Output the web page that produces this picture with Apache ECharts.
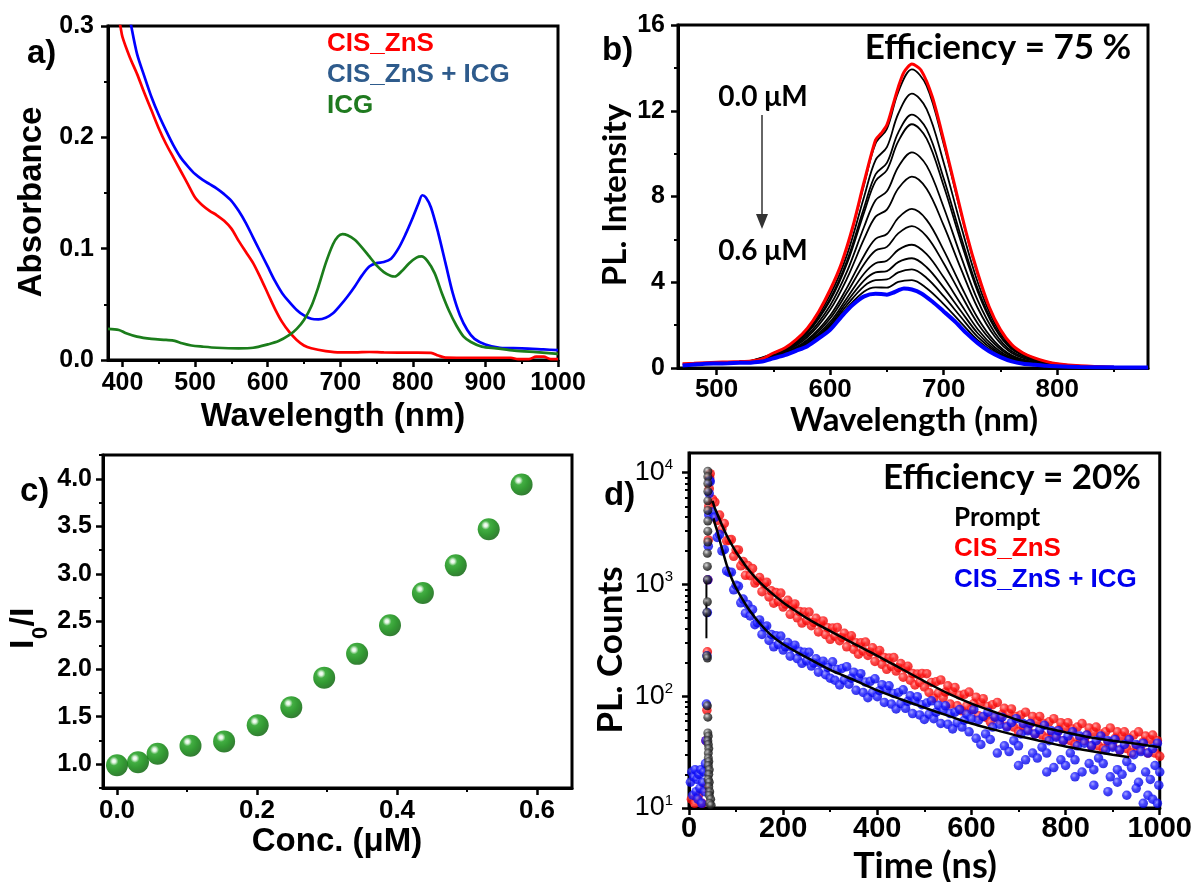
<!DOCTYPE html>
<html><head><meta charset="utf-8">
<script src="https://cdn.jsdelivr.net/npm/echarts@6/dist/echarts.min.js"></script>
<style>html,body{margin:0;padding:0;background:#fff}#c{width:1195px;height:882px}</style>
</head><body><div id="c"></div>
<script>
// ===== Panel a: absorbance spectra [wavelength nm, absorbance] =====
const absCIS = [[392,0.315],[397,0.300],[400,0.290],[410,0.272],[420,0.257],[430,0.240],[440,0.224],[450,0.208],[460,0.194],[470,0.182],[480,0.170],[490,0.158],[500,0.146],[510,0.139],[520,0.134],[530,0.130],[540,0.125],[550,0.118],[560,0.107],[570,0.097],[580,0.087],[590,0.074],[600,0.060],[610,0.046],[620,0.034],[630,0.025],[640,0.018],[650,0.013],[660,0.0105],[680,0.008],[700,0.0068],[720,0.0068],[740,0.0072],[760,0.0068],[800,0.0066],[825,0.0064],[835,0.004],[845,0.0022],[900,0.002],[935,0.002],[945,0.0008],[960,0.0008],[970,0.003],[980,0.003],[990,0.0008],[1000,0.0008]];
const absCISICG = [[408,0.315],[412,0.300],[420,0.275],[430,0.255],[440,0.236],[450,0.220],[460,0.206],[470,0.193],[480,0.182],[490,0.174],[500,0.167],[510,0.162],[520,0.158],[530,0.154],[540,0.149],[550,0.143],[560,0.134],[570,0.123],[580,0.110],[590,0.097],[600,0.084],[610,0.071],[620,0.060],[630,0.052],[640,0.045],[650,0.040],[660,0.037],[670,0.0365],[680,0.038],[690,0.042],[700,0.049],[710,0.057],[720,0.066],[730,0.076],[740,0.084],[750,0.087],[760,0.088],[770,0.091],[780,0.100],[790,0.113],[800,0.128],[808,0.141],[813,0.148],[818,0.146],[825,0.137],[835,0.114],[845,0.087],[855,0.060],[865,0.040],[875,0.027],[885,0.019],[900,0.014],[920,0.011],[950,0.0105],[980,0.0095],[1000,0.0088]];
const absICG = [[380,0.028],[395,0.027],[405,0.024],[420,0.021],[440,0.019],[460,0.018],[472,0.0172],[482,0.015],[495,0.013],[510,0.012],[530,0.011],[560,0.0105],[580,0.011],[600,0.014],[615,0.017],[630,0.0225],[640,0.028],[650,0.036],[660,0.048],[670,0.066],[680,0.087],[690,0.104],[697,0.111],[703,0.113],[710,0.112],[720,0.108],[730,0.101],[740,0.093],[750,0.085],[760,0.079],[770,0.0755],[775,0.075],[785,0.080],[795,0.087],[805,0.092],[812,0.093],[820,0.089],[830,0.078],[840,0.060],[850,0.044],[860,0.031],[870,0.021],[880,0.0162],[895,0.012],[915,0.0105],[940,0.0085],[970,0.007],[1000,0.0055]];

// ===== Panel b: PL spectra =====
const plWl = [470,480,490,500,510,520,530,540,550,560,570,580,590,600,610,620,630,640,645,650,655,660,665,672,680,690,700,710,720,730,740,750,760,770,780,790,800,820,850,880];
const pl0uM = [0.2,0.22,0.25,0.27,0.28,0.3,0.33,0.42,0.7,0.93,1.32,1.86,2.64,3.65,4.89,6.6,8.7,10.64,10.95,11.34,12.2,13.1,13.8,14.18,13.9,12.65,10.64,8.46,6.29,4.43,2.87,1.79,1.09,0.7,0.47,0.31,0.2,0.1,0.04,0.02];
const pl06uM = [0.12,0.16,0.2,0.21,0.22,0.24,0.25,0.3,0.45,0.6,0.8,1.02,1.38,1.78,2.4,2.95,3.34,3.46,3.45,3.42,3.5,3.62,3.71,3.66,3.49,3.1,2.64,2.17,1.63,1.16,0.78,0.51,0.31,0.2,0.15,0.1,0.08,0.05,0.03,0.02];
const plMidWl = [530,560,580,600,615,630,640,650,660,672,685,700,715,730,745,760,780,800,830,860];
const plMid01 = [0.33,0.92,1.84,3.61,5.63,8.57,10.47,11.15,12.87,13.93,13.16,10.45,7.27,4.35,2.26,1.07,0.46,0.2,0.07,0.03];
const plMid02 = [0.32,0.89,1.75,3.41,5.30,8.00,9.70,10.30,11.86,12.80,12.08,9.59,6.68,4.00,2.08,0.99,0.43,0.18,0.066,0.029];
const plMid03 = [0.31,0.86,1.67,3.23,5.02,7.50,9.03,9.57,10.98,11.82,11.14,8.85,6.17,3.70,1.93,0.92,0.40,0.17,0.063,0.028];
const plMid04 = [0.31,0.84,1.64,3.15,4.89,7.27,8.72,9.23,10.57,11.37,10.70,8.50,5.93,3.56,1.86,0.88,0.39,0.17,0.062,0.027];
const plMid05 = [0.30,0.80,1.53,2.92,4.52,6.60,7.83,8.24,9.38,10.06,9.44,7.50,5.24,3.15,1.65,0.78,0.35,0.15,0.058,0.026];
const plMid06 = [0.29,0.77,1.44,2.72,4.19,6.03,7.06,7.39,8.37,8.93,8.36,6.65,4.66,2.80,1.47,0.70,0.31,0.14,0.055,0.025];
const plMid07 = [0.28,0.72,1.32,2.45,3.76,5.25,6.02,6.25,7.00,7.42,6.91,5.50,3.86,2.33,1.23,0.59,0.26,0.12,0.05,0.024];
const plMid08 = [0.27,0.69,1.26,2.31,3.53,4.85,5.48,5.65,6.28,6.62,6.14,4.89,3.45,2.08,1.11,0.53,0.24,0.11,0.048,0.023];
const plMid09 = [0.27,0.67,1.19,2.15,3.28,4.41,4.89,5.00,5.51,5.75,5.31,4.23,3.00,1.81,0.97,0.47,0.21,0.10,0.046,0.022];
const plMid10 = [0.26,0.65,1.14,2.04,3.10,4.09,4.46,4.52,4.94,5.12,4.70,3.75,2.67,1.62,0.87,0.42,0.19,0.10,0.044,0.021];
const plMid11 = [0.26,0.63,1.10,1.95,2.95,3.82,4.10,4.13,4.46,4.60,4.20,3.35,2.39,1.45,0.79,0.38,0.18,0.09,0.043,0.021];
const plMid12 = [0.25,0.61,1.06,1.86,2.81,3.57,3.76,3.75,4.02,4.10,3.72,2.98,2.13,1.30,0.71,0.34,0.16,0.09,0.04,0.02];

// ===== Panel c: Stern-Volmer =====
const conc = [0.0,0.03,0.058,0.105,0.153,0.201,0.249,0.296,0.343,0.39,0.437,0.484,0.531,0.578];
const ratio = [0.99,1.02,1.11,1.195,1.24,1.41,1.60,1.91,2.16,2.46,2.80,3.09,3.47,3.94];

// ===== Panel d: PL decay [time ns, counts] =====
const decayCIS = [[5,12],[12,11],[20,13],[28,11],[33,15],[36,40],[38,75],[39,250],[40,1100],[41,2500],[42,5000],[43,7200],[44,9000],
[45,9800],[50,5790],[55,5460],[60,3740],[65,4180],[70,3135],[75,3510],[80,2457],[85,2500],[90,2520],[95,1784],[100,2033],[105,2036],[110,1469],[115,1607],[120,1207],[125,1474],[130,1197],[135,1392],[140,1028],[145,1080],[150,1154],[155,861],[160,1017],[165,1047],[170,774],[175,877],[180,680],[185,847],[190,703],[195,837],[200,628],[205,667],[210,722],[215,541],[220,642],[225,669],[230,503],[235,574],[240,451],[245,567],[250,475],[255,567],[260,428],[265,457],[270,498],[275,376],[280,449],[285,472],[290,356],[295,410],[300,323],[305,408],[310,344],[315,413],[320,314],[325,336],[330,366],[335,277],[340,332],[345,347],[350,263],[355,301],[360,238],[365,301],[370,254],[375,305],[380,232],[385,249],[390,271],[395,205],[400,246],[405,256],[410,193],[415,222],[420,174],[425,220],[430,185],[435,222],[440,168],[445,180],[450,196],[455,148],[460,177],[465,185],[470,139],[475,160],[480,126],[485,158],[490,133],[495,160],[500,121],[505,159],[510,108],[515,133],[520,96],[525,135],[530,107],[535,140],[540,97],[545,109],[550,124],[555,85],[560,110],[565,120],[570,82],[575,102],[580,74],[585,104],[590,82],[595,109],[600,76],[605,86],[610,98],[615,67],[620,88],[625,95],[630,65],[635,81],[640,59],[645,84],[650,66],[655,88],[660,61],[665,69],[670,78],[675,54],[680,70],[685,77],[690,53],[695,66],[700,48],[705,68],[710,54],[715,72],[720,50],[725,57],[730,66],[735,46],[740,60],[745,66],[750,45],[755,57],[760,42],[765,59],[770,47],[775,63],[780,44],[785,50],[790,58],[795,40],[800,53],[805,58],[810,40],[815,51],[820,37],[825,53],[830,42],[835,57],[840,40],[845,45],[850,52],[855,36],[860,48],[865,53],[870,36],[875,46],[880,34],[885,48],[890,39],[895,52],[900,36],[905,42],[910,48],[915,33],[920,44],[925,48],[930,34],[935,42],[940,31],[945,45],[950,36],[955,48],[960,33],[965,39],[970,44],[975,31],[980,41],[985,45],[990,31],[995,40],[1000,29]];
const decayCISICG = [[3,17],[6,21],[8,13],[10,19],[13,22],[15,14],[17,18],[19,12],[21,20],[23,15],[25,22],[27,11],[29,17],[31,21],[33,14],[35,25],[36,40],[37,85],[38,230],[39,560],[40,1100],[41,2200],[42,4200],[43,6500],[44,8500],
[45,8300],[50,4450],[55,3990],[60,2635],[65,2805],[70,1995],[75,2048],[80,1320],[85,1280],[90,1288],[95,896],[100,984],[105,966],[110,685],[115,740],[120,553],[125,660],[130,523],[135,597],[140,437],[145,455],[150,482],[155,357],[160,417],[165,426],[170,316],[175,357],[180,277],[185,348],[190,290],[195,345],[200,259],[205,277],[210,302],[215,228],[220,273],[225,286],[230,217],[235,252],[240,197],[245,248],[250,207],[255,247],[260,186],[265,198],[270,216],[275,164],[280,197],[285,206],[290,156],[295,181],[300,145],[305,203],[310,139],[315,173],[320,126],[325,177],[330,140],[335,184],[340,128],[345,145],[350,164],[355,113],[360,146],[365,159],[370,108],[375,134],[380,97],[385,136],[390,108],[395,143],[400,99],[405,112],[410,127],[415,88],[420,114],[425,124],[430,85],[435,106],[440,77],[445,108],[450,86],[455,114],[460,78],[465,90],[470,101],[475,70],[480,91],[485,99],[490,68],[495,84],[500,62],[505,87],[510,69],[515,91],[520,63],[525,72],[530,83],[535,57],[540,75],[545,82],[550,56],[555,70],[560,51],[565,72],[570,58],[575,76],[580,53],[585,61],[590,69],[595,48],[600,63],[605,76],[610,42],[615,61],[620,37],[625,66],[630,46],[635,72],[640,41],[645,53],[650,65],[655,31],[660,56],[665,65],[670,36],[675,53],[680,32],[685,58],[690,40],[695,63],[700,36],[705,46],[710,57],[715,27],[720,49],[725,57],[730,31],[735,46],[740,28],[745,50],[750,35],[755,55],[760,31],[765,40],[770,49],[775,23],[780,43],[785,49],[790,27],[795,40],[800,24],[805,44],[810,31],[815,48],[820,27],[825,36],[830,44],[835,21],[840,38],[845,45],[850,25],[855,36],[860,22],[865,40],[870,28],[875,44],[880,25],[885,33],[890,40],[895,19],[900,35],[905,41],[910,22],[915,33],[920,20],[925,37],[930,26],[935,41],[940,23],[945,30],[950,37],[955,17],[960,32],[965,38],[970,21],[975,31],[980,18],[985,34],[990,24],[995,38],[1000,21],
[700,24],[760,21],[820,19],[860,16],[890,14],[910,17],[930,13],[950,15],[965,11],[975,13],[985,12],[995,11],[998,16]];
const fitCIS = [[50,5600],[55,4800],[60,4300],[70,3400],[80,2750],[90,2300],[100,1950],[115,1580],[130,1300],[150,1050],[175,840],[200,690],[225,585],[250,500],[275,435],[300,382],[350,295],[400,230],[450,177],[500,136],[550,106],[600,86],[650,72],[700,61],[750,53],[800,47.5],[850,43],[900,40],[950,37.5],[1000,35]];
const fitCISICG = [[52,3900],[55,3500],[60,3000],[65,2500],[70,2100],[80,1500],[90,1150],[100,930],[115,720],[130,575],[150,450],[175,350],[200,292],[250,222],[300,172],[350,140],[400,113],[450,94],[500,79],[550,67],[600,57],[650,50],[700,44],[750,39.5],[800,35.5],[850,32.5],[900,30],[935,28.5]];
const promptIRF = [[40,10300],[40,9200],[40,8000],[40,6800],[40,5600],[40,4600],[40,3700],[40,3000],[40,2400],[39,1900],[39,1450],[39,1100],[39,700],[38,560],[38,230],[39,220],[39,82],[40,65],[40,47],[41,44],[40,40],[41,37],[42,34],[41,31],[41,28],[42,26],[41,24],[43,22],[42,20],[41,18],[43,17],[42,15.5],[44,14],[43,13],[46,12],[44,11],[47,10.6]];
const promptLine = [[37,1180],[37,330]];

// ===== tick values =====
const ticksA = {x:[400,500,600,700,800,900,1000], xm:[450,550,650,750,850,950], y:[0,0.1,0.2,0.3], ym:[0.05,0.15,0.25]};
const ticksB = {x:[500,600,700,800], xm:[550,650,750,850], y:[0,4,8,12,16], ym:[2,6,10,14]};
const ticksC = {x:[0,0.2,0.4,0.6], xm:[0.1,0.3,0.5], y:[1,1.5,2,2.5,3,3.5,4], ym:[0.75,1.25,1.75,2.25,2.75,3.25,3.75,4.25]};
const ticksD = {x:[0,200,400,600,800,1000], xm:[100,300,500,700,900], y:[10,100,1000,10000], ym:[20,30,40,50,60,70,80,90,200,300,400,500,600,700,800,900,2000,3000,4000,5000,6000,7000,8000,9000]};

const F1 = '"Liberation Sans", Arial, sans-serif';
const F2 = 'Lato, "Open Sans", sans-serif';
const plain = v => String(v);

function mkAxes(dim, gi, o) {
  const type = o.log ? 'log' : 'value';
  const pos = dim === 'x' ? 'bottom' : 'left';
  const main = {
    type, gridIndex: gi, min: o.min, max: o.max, position: pos,
    axisLine: {show: true, onZero: false, lineStyle: {color: '#000', width: 3}},
    axisTick: {show: true, inside: false, length: 7, lineStyle: {color: '#000', width: 2.5}, customValues: o.major},
    axisLabel: {show: true, customValues: o.major, margin: o.margin, color: '#000', fontFamily: F1, fontWeight: o.fw || 'bold', fontSize: o.fs, formatter: o.fmt || plain, rich: o.rich},
    splitLine: {show: false}
  };
  const minor = {
    type, gridIndex: gi, min: o.min, max: o.max, position: pos,
    axisLine: {show: false, onZero: false},
    axisTick: {show: true, inside: false, length: 4, lineStyle: {color: '#000', width: 2}, customValues: o.minor},
    axisLabel: {show: false}, splitLine: {show: false}
  };
  if (o.log) { main.logBase = 10; minor.logBase = 10; }
  return [main, minor];
}

const xAxes = [].concat(
  mkAxes('x', 0, {min: 380, max: 1000, major: ticksA.x, minor: ticksA.xm, margin: 11, fs: 25}),
  mkAxes('x', 1, {min: 466, max: 880, major: ticksB.x, minor: ticksB.xm, margin: 9, fs: 26}),
  mkAxes('x', 2, {min: -0.02, max: 0.65, major: ticksC.x, minor: ticksC.xm, margin: 10, fs: 26, fmt: v => v.toFixed(1)}),
  mkAxes('x', 3, {min: 0, max: 1000, major: ticksD.x, minor: ticksD.xm, margin: 6, fs: 29})
);
const yAxes = [].concat(
  mkAxes('y', 0, {min: 0, max: 0.3, major: ticksA.y, minor: ticksA.ym, margin: 14, fs: 25, fmt: v => v.toFixed(1)}),
  mkAxes('y', 1, {min: 0, max: 16, major: ticksB.y, minor: ticksB.ym, margin: 13, fs: 25}),
  mkAxes('y', 2, {min: 0.75, max: 4.25, major: ticksC.y, minor: ticksC.ym, margin: 11, fs: 25, fmt: v => v.toFixed(1)}),
  mkAxes('y', 3, {log: true, min: 10, max: 15000, major: ticksD.y, minor: ticksD.ym, margin: 16, fs: 27, fw: 'normal',
    fmt: v => '10{s|' + Math.round(Math.log10(v)) + '}',
    rich: {s: {fontSize: 15, fontFamily: F1, color: '#000', verticalAlign: 'top', lineHeight: 30}}})
);

function ln(data, color, width, xi, yi, z, smooth) {
  return {type: 'line', data, xAxisIndex: xi, yAxisIndex: yi, symbol: 'none', showSymbol: false,
    smooth: smooth === undefined ? 0.3 : smooth, lineStyle: {color, width}, z, silent: true};
}
function sphere(c0, c1, c2) {
  return {type: 'radial', x: 0.38, y: 0.35, r: 0.65, colorStops: [{offset: 0, color: c0}, {offset: 0.45, color: c1}, {offset: 1, color: c2}]};
}
const zip = (xs, ys) => xs.map((x, i) => [x, ys[i]]);

const series = [
  ln(absCIS, '#ff0000', 2.7, 0, 0, 3),
  ln(absCISICG, '#0000ff', 2.7, 0, 0, 3),
  ln(absICG, '#1b7d1b', 2.7, 0, 0, 4),
];
[plMid01, plMid02, plMid03, plMid04, plMid05, plMid06, plMid07, plMid08, plMid09, plMid10, plMid11, plMid12].forEach(v => {
  series.push(ln(zip(plMidWl, v), '#000', 1.8, 2, 2, 3, 0.35));
});
series.push(ln(zip(plWl, pl0uM), '#ff0000', 3, 2, 2, 4, 0.25));
series.push(ln(zip(plWl, pl06uM), '#0000ff', 4, 2, 2, 5, 0.25));
series.push({type: 'scatter', data: zip(conc, ratio), xAxisIndex: 4, yAxisIndex: 4, symbol: 'circle', symbolSize: 22,
  itemStyle: {color: {type: 'radial', x: 0.36, y: 0.32, r: 0.68, colorStops: [{offset: 0, color: '#ffffff'}, {offset: 0.12, color: '#d8f2d8'}, {offset: 0.3, color: '#139a13'}, {offset: 0.65, color: '#008000'}, {offset: 1, color: '#005f00'}]}}, z: 4});
series.push({type: 'scatter', data: decayCIS, xAxisIndex: 6, yAxisIndex: 6, symbol: 'circle', symbolSize: 9.5,
  itemStyle: {color: sphere('#ff8a8a', '#ff1a1a', '#e80000')}, z: 3, clip: true});
series.push({type: 'scatter', data: decayCISICG, xAxisIndex: 6, yAxisIndex: 6, symbol: 'circle', symbolSize: 9.5,
  itemStyle: {color: sphere('#8a8aff', '#1a1aff', '#0000e0')}, z: 3, clip: true});
series.push(ln(fitCIS, '#000', 2.5, 6, 6, 5, 0.3));
series.push(ln(fitCISICG, '#000', 2.5, 6, 6, 5, 0.3));
series.push(ln(promptLine, '#000', 2, 6, 6, 5, false));
series.push({type: 'scatter', data: promptIRF, xAxisIndex: 6, yAxisIndex: 6, symbol: 'circle', symbolSize: 9,
  itemStyle: {color: sphere('#d8d8d8', '#4a4a4a', '#000000')}, z: 6, clip: true});

function txt(text, x, y, font, fill, align, rot) {
  return {type: 'text', x, y, rotation: rot || 0, z: 100,
    style: {text, font, fill: fill || '#000', align: align || 'center', verticalAlign: 'middle', textAlign: align || 'center', textVerticalAlign: 'middle'}};
}
const B1 = s => 'bold ' + s + 'px ' + F1;
const B2 = s => 'bold ' + s + 'px ' + F2;
const R90 = Math.PI / 2;

const graphic = [
  txt('a)', 27, 54, B1(33), '#000', 'left'),
  txt('Absorbance', 32, 202, B1(33), '#000', 'center', R90),
  txt('Wavelength (nm)', 333, 417, B1(33)),
  txt('CIS_ZnS', 327, 44, B1(26), '#ff0000', 'left'),
  txt('CIS_ZnS + ICG', 327, 75, B1(26), '#2e5b8c', 'left'),
  txt('ICG', 327, 106, B1(26), '#1f7a1f', 'left'),
  txt('b)', 602, 51, B1(33), '#000', 'left'),
  txt('PL. Intensity', 615, 195, B2(33), '#000', 'center', R90),
  txt('Wavelength (nm)', 914, 420, B2(33)),
  txt('Efficiency = 75 %', 998, 48, B2(35)),
  txt('0.0 μM', 763, 97, B2(28)),
  txt('0.6 μM', 763, 251, B2(28)),
  {type: 'line', z: 100, shape: {x1: 762, y1: 115, x2: 762, y2: 217}, style: {stroke: '#333', lineWidth: 1.5}},
  {type: 'polygon', z: 100, shape: {points: [[756, 214], [768, 214], [762, 229]]}, style: {fill: '#333'}},
  txt('c)', 20, 492, B1(33), '#000', 'left'),
  {type: 'group', x: 24, y: 628, rotation: R90, z: 100, children: [
    {type: 'text', x: -21, y: 0, style: {text: 'I', font: B1(34), fill: '#000', align: 'left', verticalAlign: 'middle', textAlign: 'left', textVerticalAlign: 'middle'}},
    {type: 'text', x: -11, y: 17, style: {text: '0', font: B1(22), fill: '#000', align: 'left', verticalAlign: 'middle', textAlign: 'left', textVerticalAlign: 'middle'}},
    {type: 'text', x: 1.5, y: 0, style: {text: '/I', font: B1(34), fill: '#000', align: 'left', verticalAlign: 'middle', textAlign: 'left', textVerticalAlign: 'middle'}}
  ]},
  txt('Conc. (μM)', 337, 842, B1(33)),
  txt('d)', 604, 496, B1(33), '#000', 'left'),
  txt('PL. Counts', 611, 650, B2(35), '#000', 'center', R90),
  txt('Time (ns)', 925, 866, B2(36)),
  txt('Efficiency = 20%', 1012, 478, B2(35)),
  txt('Prompt', 954, 518, B2(26), '#000', 'left'),
  txt('CIS_ZnS', 954, 549, B1(26), '#ff0000', 'left'),
  txt('CIS_ZnS + ICG', 954, 580, B1(26), '#0000ee', 'left')
];

const gridStyle = {show: true, borderColor: '#000', borderWidth: 3, backgroundColor: 'transparent'};
const option = {
  animation: false,
  backgroundColor: '#fff',
  grid: [
    Object.assign({left: 108, top: 26, width: 450, height: 334}, gridStyle),
    Object.assign({left: 678, top: 25, width: 470, height: 343}, gridStyle),
    Object.assign({left: 103, top: 455, width: 469, height: 333}, gridStyle),
    Object.assign({left: 689, top: 453, width: 471, height: 355}, gridStyle)
  ],
  xAxis: xAxes,
  yAxis: yAxes,
  series,
  graphic
};
const chart = echarts.init(document.getElementById('c'), null, {renderer: 'canvas'});
chart.setOption(option);
</script>
</body></html>
